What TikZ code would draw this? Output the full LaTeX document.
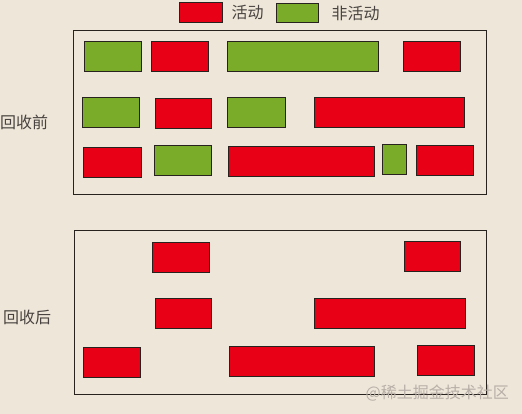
\documentclass[tikz,border=0pt]{standalone}
\usepackage{fontspec}
\newfontfamily\cjk{Noto Sans CJK SC}
\usetikzlibrary{positioning}
\definecolor{Bg}{RGB}{238, 230, 216}
\definecolor{R}{RGB}{232, 0, 22}
\definecolor{G}{RGB}{122, 172, 42}
\definecolor{K}{RGB}{40, 34, 30}
\definecolor{W}{RGB}{184, 176, 168}
\tikzset{
  blk/.style={draw=K, line width=1.3pt, inner sep=0pt, anchor=north west, minimum height=30pt},
  act/.style={blk, fill=R},
  idle/.style={blk, fill=G},
  frame/.style={draw=K, line width=1.2pt, inner sep=0pt, anchor=north west},
  lbl/.style={font=\cjk\fontsize{16}{18}\selectfont, text=K!85, inner sep=0pt}
}

\begin{document}
\begin{tikzpicture}[x=1pt, y=-1pt]
  \fill[Bg] (0,0) rectangle (522,414);
  \useasboundingbox (0,0) rectangle (522,414);
  % legend
  \node[act, minimum width=43pt, minimum height=20pt] (keyA) at (179,2) {};
  \node[lbl, right=8pt of keyA] (txtA) {活动};
  \node[idle, minimum width=42pt, minimum height=19pt] (keyI) at (276,3) {};
  \node[lbl, right=12pt of keyI] (txtI) {非活动};
  % before
  \node[frame, minimum width=413pt, minimum height=164pt] (pre) at (73,30) {};
  \node[lbl, anchor=west] (preL) at (0,122) {回收前};
  \node[idle, minimum width=57pt] (p11) at (84,41) {};
  \node[act, minimum width=57pt] (p12) at (151,41) {};
  \node[idle, minimum width=151pt] (p13) at (227,41) {};
  \node[act, minimum width=57pt] (p14) at (403,41) {};
  \node[idle, minimum width=57pt] (p21) at (82,97) {};
  \node[act, minimum width=56pt] (p22) at (155,98) {};
  \node[idle, minimum width=58pt] (p23) at (227,97) {};
  \node[act, minimum width=150pt] (p24) at (314,97) {};
  \node[act, minimum width=58pt] (p31) at (83,147) {};
  \node[idle, minimum width=57pt] (p32) at (154,145) {};
  \node[act, minimum width=146pt] (p33) at (228,146) {};
  \node[idle, minimum width=24pt] (p34) at (382,144) {};
  \node[act, minimum width=57pt] (p35) at (416,145) {};
  % after
  \node[frame, minimum width=412pt, minimum height=164pt] (post) at (74,230) {};
  \node[lbl, anchor=west] (postL) at (3,317) {回收后};
  \node[act, minimum width=57pt] (q12) at (152,242) {};
  \node[act, minimum width=56pt] (q14) at (404,241) {};
  \node[act, minimum width=56pt] (q22) at (155,298) {};
  \node[act, minimum width=151pt] (q24) at (314,298) {};
  \node[act, minimum width=57pt] (q31) at (83,347) {};
  \node[act, minimum width=145pt] (q33) at (229,346) {};
  \node[act, minimum width=57pt] (q35) at (417,345) {};
  % mark
  \node[font=\cjk\fontsize{16}{18}\selectfont, text=W, inner sep=0pt, anchor=east] (mark) at (509,393) {@稀土掘金技术社区};
\end{tikzpicture}
\end{document}
